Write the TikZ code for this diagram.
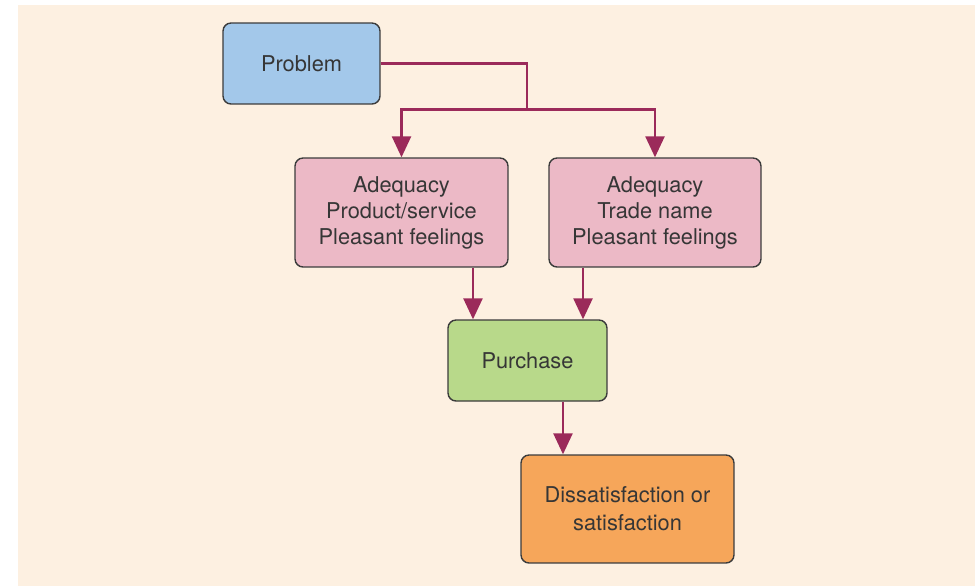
\documentclass[tikz,border=0pt]{standalone}
\usepackage{fontspec}
\setmainfont{TeX Gyre Heros}
\usetikzlibrary{arrows.meta,positioning,calc}

\definecolor{bgpeach}{HTML}{FDF0E1}
\definecolor{probblue}{HTML}{A3C8EA}
\definecolor{adeqpink}{HTML}{ECB9C6}
\definecolor{buygreen}{HTML}{B8D98A}
\definecolor{endorange}{HTML}{F6A65A}
\definecolor{flowred}{HTML}{9B2A5A}
\definecolor{edgegrey}{HTML}{3C3C3C}
\definecolor{textgrey}{HTML}{363636}

\begin{document}
\begin{tikzpicture}[x=0.02cm,y=-0.02cm]
    \tikzstyle{box}=[draw=edgegrey,line width=0.8pt,rectangle,rounded corners=0.16cm,align=center,text=textgrey,font=\fontsize{12.4}{14.8}\selectfont,inner sep=0pt]
    \tikzstyle{flow}=[draw=flowred,line width=1.4pt]
    \tikzstyle{arr}=[flow,-{Triangle[width=0.38cm,length=0.42cm]}]

    \useasboundingbox (0,0) rectangle (975,586);
    \fill[bgpeach] (18,5) rectangle (975,586);

    \node[box,fill=probblue,minimum width=3.14cm,minimum height=1.62cm] at (301.5,63.5) (problem) {Problem};
    \node[box,fill=adeqpink,minimum width=4.26cm,minimum height=2.18cm] at (401.5,212.5) (adeqprod) {Adequacy\\Product/service\\Pleasant feelings};
    \node[box,fill=adeqpink,minimum width=4.24cm,minimum height=2.18cm] at (655,212.5) (adeqname) {Adequacy\\Trade name\\Pleasant feelings};
    \node[box,fill=buygreen,minimum width=3.18cm,minimum height=1.62cm] at (527.5,360.5) (purchase) {Purchase};
    \node[box,fill=endorange,minimum width=4.26cm,minimum height=2.16cm,font=\fontsize{12.4}{15.9}\selectfont] at (627.5,509) (outcome) {Dissatisfaction or\\satisfaction};

    \coordinate (split) at (527,109.5);
    \draw[flow] (problem.east) -| (split);
    \draw[arr] (split) -| (adeqprod.north);
    \draw[arr] (split) -| (adeqname.north);
    \draw[arr] ([xshift=1.43cm]adeqprod.south) -- ([xshift=1.43cm]adeqprod.south |- purchase.north);
    \draw[arr] ([xshift=-1.44cm]adeqname.south) -- ([xshift=-1.44cm]adeqname.south |- purchase.north);
    \draw[arr] ([xshift=0.71cm]purchase.south) -- ([xshift=0.71cm]purchase.south |- outcome.north);
\end{tikzpicture}
\end{document}
